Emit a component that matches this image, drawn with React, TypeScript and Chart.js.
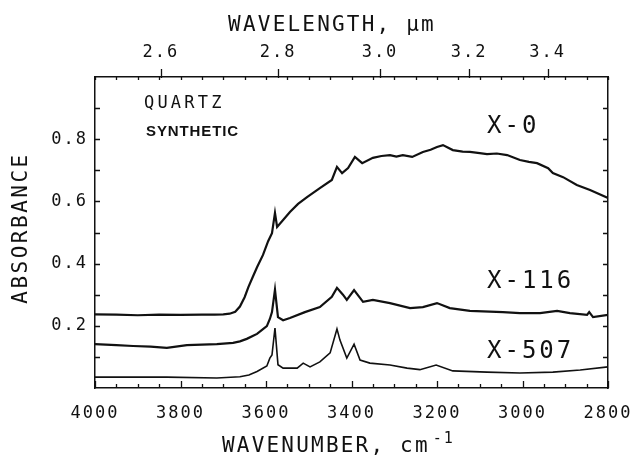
import React, { useEffect, useRef } from 'react';
import { Chart, registerables } from 'chart.js';
Chart.register(...registerables);

const FONT = '"DejaVu Sans Mono", monospace';
const INK = '#111';

// Axis ticks
const wavenumberTicks = [4000, 3800, 3600, 3400, 3200, 3000, 2800];
const wavelengthTicks = [2.6, 2.8, 3.0, 3.2, 3.4];
const absorbanceTicks = [0.2, 0.4, 0.6, 0.8];
const minorWavenumberStep = 50;
const minorAbsorbanceStep = 0.1;

// Series X-0
const x0Wavenumber = [4000, 3950, 3900, 3850, 3800, 3750, 3720, 3700, 3685, 3672, 3661, 3650, 3641, 3630, 3621, 3607, 3595, 3586, 3579, 3574, 3560, 3544, 3525, 3504, 3474, 3446, 3434, 3422, 3408, 3392, 3375, 3350, 3330, 3310, 3295, 3280, 3258, 3233, 3215, 3200, 3186, 3163, 3140, 3123, 3100, 3083, 3060, 3036, 3006, 2985, 2966, 2940, 2929, 2905, 2873, 2842, 2800];
const x0Absorbance = [0.237, 0.236, 0.234, 0.236, 0.235, 0.236, 0.236, 0.237, 0.239, 0.245, 0.262, 0.292, 0.325, 0.360, 0.388, 0.428, 0.472, 0.498, 0.563, 0.518, 0.540, 0.566, 0.592, 0.614, 0.643, 0.669, 0.711, 0.691, 0.707, 0.743, 0.723, 0.740, 0.746, 0.749, 0.744, 0.749, 0.743, 0.759, 0.766, 0.775, 0.781, 0.765, 0.760, 0.759, 0.755, 0.752, 0.754, 0.749, 0.733, 0.727, 0.723, 0.707, 0.691, 0.678, 0.653, 0.637, 0.611];

// Series X-116
const x116Wavenumber = [4000, 3950, 3911, 3870, 3832, 3785, 3715, 3677, 3661, 3645, 3630, 3621, 3610, 3598, 3591, 3586, 3579, 3572, 3560, 3544, 3509, 3474, 3446, 3434, 3420, 3411, 3394, 3373, 3350, 3310, 3263, 3233, 3200, 3170, 3123, 3046, 3006, 2959, 2919, 2889, 2849, 2844, 2835, 2800];
const x116Absorbance = [0.141, 0.138, 0.135, 0.133, 0.129, 0.138, 0.141, 0.145, 0.150, 0.158, 0.168, 0.174, 0.186, 0.199, 0.222, 0.244, 0.316, 0.228, 0.218, 0.225, 0.244, 0.260, 0.293, 0.322, 0.300, 0.283, 0.315, 0.277, 0.283, 0.273, 0.257, 0.260, 0.273, 0.257, 0.248, 0.244, 0.241, 0.241, 0.248, 0.241, 0.235, 0.244, 0.228, 0.235];

// Series X-507
const x507Wavenumber = [4000, 3900, 3832, 3715, 3661, 3640, 3621, 3598, 3591, 3586, 3579, 3572, 3560, 3527, 3513, 3497, 3474, 3450, 3434, 3427, 3411, 3394, 3380, 3357, 3310, 3270, 3240, 3202, 3163, 3083, 3006, 2929, 2865, 2800];
const x507Absorbance = [0.035, 0.035, 0.035, 0.032, 0.036, 0.042, 0.053, 0.071, 0.096, 0.106, 0.193, 0.075, 0.064, 0.064, 0.080, 0.068, 0.084, 0.113, 0.190, 0.154, 0.096, 0.141, 0.090, 0.080, 0.074, 0.064, 0.059, 0.074, 0.055, 0.051, 0.048, 0.051, 0.058, 0.068];

const seriesLabels = ['X-0', 'X-116', 'X-507'];

const toPoints = (xs: number[], ys: number[]) => xs.map((x, i) => ({ x, y: ys[i] }));

const drawText = (ctx: CanvasRenderingContext2D, text: string, x: number, y: number, font: string, spacing: number, align: CanvasTextAlign = 'left') => {
  ctx.font = font;
  (ctx as any).letterSpacing = spacing + 'px';
  ctx.textAlign = align;
  ctx.textBaseline = 'alphabetic';
  ctx.fillText(text, x, y);
};

const noPadding = (s: any) => {
  s.paddingLeft = 0;
  s.paddingRight = 0;
  s.paddingTop = 0;
  s.paddingBottom = 0;
};

const framePlugin = {
  id: 'framePlugin',
  beforeDraw(chart: any) {
    (chart.ctx as any).letterSpacing = '2px';
  },
  afterDraw(chart: any) {
    const { ctx, chartArea: a, scales } = chart;
    const xs = scales.x;
    const ys = scales.y;
    ctx.save();
    ctx.strokeStyle = INK;
    ctx.lineWidth = 1.3;
    ctx.beginPath();
    for (let v = xs.min; v <= xs.max; v += minorWavenumberStep) {
      const px = Math.round(xs.getPixelForValue(v)) + 0.5;
      const major = wavenumberTicks.includes(v);
      ctx.moveTo(px, a.bottom);
      ctx.lineTo(px, a.bottom - (major ? 7 : 4));
      ctx.moveTo(px, a.top);
      ctx.lineTo(px, a.top + 3);
    }
    for (const l of wavelengthTicks) {
      const px = Math.round(xs.getPixelForValue(10000 / l)) + 0.5;
      ctx.moveTo(px, a.top + 1);
      ctx.lineTo(px, a.top - 8);
    }
    for (let i = 1; i * minorAbsorbanceStep < ys.max - 1e-9; i++) {
      const py = Math.round(ys.getPixelForValue(i * minorAbsorbanceStep)) + 0.5;
      ctx.moveTo(a.left, py);
      ctx.lineTo(a.left + 5, py);
      ctx.moveTo(a.right, py);
      ctx.lineTo(a.right - 5, py);
    }
    ctx.stroke();

    ctx.fillStyle = INK;
    // axis titles
    const titleFont = `21px ${FONT}`;
    drawText(ctx, 'WAVELENGTH, \u03bcm', 332, 31, titleFont, 2.2, 'center');
    drawText(ctx, 'WAVENUMBER, cm', 222, 452, titleFont, 2.2, 'left');
    ctx.font = titleFont;
    (ctx as any).letterSpacing = '2.2px';
    const w = ctx.measureText('WAVENUMBER, cm').width;
    drawText(ctx, '-1', 222 + w + 3, 443, `15px ${FONT}`, 2, 'left');
    ctx.save();
    ctx.translate(27, 228);
    ctx.rotate(-Math.PI / 2);
    drawText(ctx, 'ABSORBANCE', 0, 0, titleFont, 2.5, 'center');
    ctx.restore();

    // annotations
    drawText(ctx, 'QUARTZ', 144, 108, `17px ${FONT}`, 3.2, 'left');
    drawText(ctx, 'SYNTHETIC', 146, 136, `bold 15px "Liberation Sans", Arial, sans-serif`, 0.9, 'left');
    const labelFont = `24px ${FONT}`;
    drawText(ctx, seriesLabels[0], 487, 133, labelFont, 3, 'left');
    drawText(ctx, seriesLabels[1], 487, 288, labelFont, 3, 'left');
    drawText(ctx, seriesLabels[2], 487, 358, labelFont, 3, 'left');
    ctx.restore();
  },
};

export default function App() {
  const ref = useRef<HTMLCanvasElement | null>(null);
  useEffect(() => {
    if (!ref.current) return;
    const tickFont = { family: FONT, size: 17 };
    const border = { display: true, color: INK, width: 1.5 };
    const chart = new Chart(ref.current, {
      type: 'line',
      data: {
        datasets: [
          { label: seriesLabels[0], data: toPoints(x0Wavenumber, x0Absorbance), borderColor: INK, borderWidth: 2.2, pointRadius: 0, tension: 0, fill: false },
          { label: seriesLabels[1], data: toPoints(x116Wavenumber, x116Absorbance), borderColor: INK, borderWidth: 2.2, pointRadius: 0, tension: 0, fill: false },
          { label: seriesLabels[2], data: toPoints(x507Wavenumber, x507Absorbance), borderColor: INK, borderWidth: 1.6, pointRadius: 0, tension: 0, fill: false },
        ],
      },
      options: {
        animation: false,
        responsive: false,
        events: [],
        layout: { padding: 0 },
        plugins: { legend: { display: false }, tooltip: { enabled: false } },
        scales: {
          x: {
            type: 'linear', position: 'bottom', min: 2800, max: 4000, reverse: true,
            afterBuildTicks: (s: any) => { s.ticks = wavenumberTicks.map((v) => ({ value: v })); },
            afterFit: (s: any) => { s.height = 68; noPadding(s); },
            grid: { display: false, drawTicks: false },
            border,
            ticks: { font: tickFont, color: INK, padding: 15, maxRotation: 0, autoSkip: false, callback: (v: any) => String(v) },
          },
          x2: {
            type: 'linear', position: 'top', min: 2800, max: 4000, reverse: true,
            afterBuildTicks: (s: any) => { s.ticks = wavelengthTicks.map((l) => ({ value: 10000 / l })); },
            afterFit: (s: any) => { s.height = 77; noPadding(s); },
            grid: { display: false, drawTicks: false },
            border,
            ticks: { font: tickFont, color: INK, padding: 14, maxRotation: 0, autoSkip: false, callback: (v: any) => (10000 / Number(v)).toFixed(1) },
          },
          y: {
            type: 'linear', position: 'left', min: 0, max: 1,
            afterBuildTicks: (s: any) => { s.ticks = absorbanceTicks.map((v) => ({ value: v })); },
            afterFit: (s: any) => { s.width = 95; noPadding(s); },
            grid: { display: false, drawTicks: false },
            border,
            ticks: { font: tickFont, color: INK, padding: 7, autoSkip: false, callback: (v: any) => Number(v).toFixed(1) },
          },
          y2: {
            type: 'linear', position: 'right', min: 0, max: 1,
            afterFit: (s: any) => { s.width = 27; noPadding(s); },
            grid: { display: false, drawTicks: false },
            border,
            ticks: { display: false },
          },
        },
      } as any,
      plugins: [framePlugin],
    });
    return () => chart.destroy();
  }, []);
  return (
    <div style={{ position: 'fixed', left: 0, top: 0, width: 635, height: 456, background: '#fff' }}>
      <canvas ref={ref} width={635} height={456} style={{ display: 'block' }} />
    </div>
  );
}
